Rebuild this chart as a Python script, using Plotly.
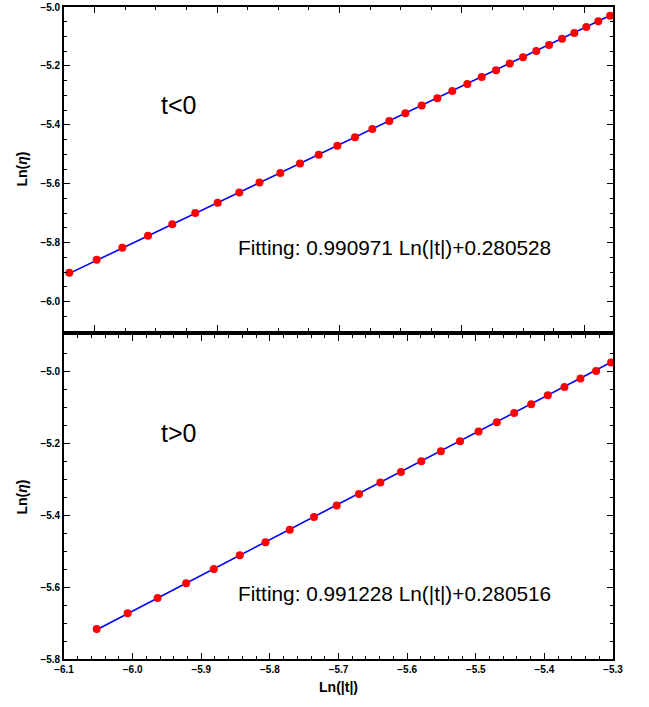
import plotly.graph_objects as go

# ---------------- data ----------------
# t < 0 panel
x_neg = [-6.2413, -6.1966, -6.1547, -6.1127, -6.0730, -6.0355, -5.9989, -5.9636,
         -5.9306, -5.8966, -5.8644, -5.8338, -5.8034, -5.7745, -5.7462, -5.7185,
         -5.6923, -5.6655, -5.6400, -5.6155, -5.5910, -5.5675, -5.5441, -5.5217,
         -5.5000, -5.4783, -5.4575, -5.4363, -5.4162, -5.3966, -5.3770, -5.3578]
y_neg = [-5.9020, -5.8585, -5.8170, -5.7765, -5.7378, -5.6998, -5.6643, -5.6294,
         -5.5955, -5.5632, -5.5316, -5.5012, -5.4714, -5.4425, -5.4142, -5.3869,
         -5.3610, -5.3348, -5.3097, -5.2850, -5.2610, -5.2375, -5.2147, -5.1922,
         -5.1709, -5.1492, -5.1287, -5.1081, -5.0880, -5.0680, -5.0488, -5.0296]

# t > 0 panel
x_pos = [-6.0524, -6.0073, -5.9636, -5.9220, -5.8817, -5.8438, -5.8064, -5.7710,
         -5.7357, -5.7026, -5.6702, -5.6390, -5.6090, -5.5793, -5.5508, -5.5229,
         -5.4959, -5.4693, -5.4440, -5.4192, -5.3950, -5.3707, -5.3474, -5.3246,
         -5.3028]
y_pos = [-5.7165, -5.6731, -5.6306, -5.5897, -5.5500, -5.5119, -5.4758, -5.4408,
         -5.4056, -5.3739, -5.3417, -5.3100, -5.2806, -5.2508, -5.2231, -5.1953,
         -5.1683, -5.1425, -5.1167, -5.0925, -5.0675, -5.0444, -5.0211, -5.0000,
         -4.9762]

# fit coefficients shown in the chart
slope_neg, icpt_neg = 0.990971, 0.280528
slope_pos, icpt_pos = 0.991228, 0.280516

label_neg = "t<0"
label_pos = "t>0"
fit_text_neg = "Fitting: 0.990971 Ln(|t|)+0.280528"
fit_text_pos = "Fitting: 0.991228 Ln(|t|)+0.280516"

# ---------------- figure ----------------
W, H = 649, 707
ML, MR, MT, MB = 64, 36, 7, 48
PW, PH = W - ML - MR, H - MT - MB


def paper(px, py):
    return (px - ML) / PW, (H - MB - py) / PH


fig = go.Figure()

fit_x_neg = [min(x_neg), max(x_neg)]
fit_x_pos = [min(x_pos), max(x_pos)]

# top panel (t<0)
fig.add_trace(go.Scatter(x=fit_x_neg, y=[slope_neg * v + icpt_neg for v in fit_x_neg],
                         mode="lines", line=dict(color="#0000ff", width=1.6),
                         xaxis="x2", yaxis="y2", showlegend=False, hoverinfo="skip"))
fig.add_trace(go.Scatter(x=x_neg, y=y_neg, mode="markers",
                         marker=dict(color="#ff0000", size=8),
                         xaxis="x2", yaxis="y2", showlegend=False, cliponaxis=True))
# bottom panel (t>0)
fig.add_trace(go.Scatter(x=fit_x_pos, y=[slope_pos * v + icpt_pos for v in fit_x_pos],
                         mode="lines", line=dict(color="#0000ff", width=1.6),
                         xaxis="x", yaxis="y", showlegend=False, hoverinfo="skip"))
fig.add_trace(go.Scatter(x=x_pos, y=y_pos, mode="markers",
                         marker=dict(color="#ff0000", size=8),
                         xaxis="x", yaxis="y", showlegend=False, cliponaxis=True))

FAM = "Liberation Sans, Arial, sans-serif"
tickfont = dict(family=FAM, size=10, color="black", weight="bold")
titlefont = dict(family=FAM, size=14, color="black")

common = dict(showline=True, linecolor="black", linewidth=1.6, mirror="ticks",
              ticks="inside", ticklen=6, tickwidth=1.3, tickcolor="black",
              showgrid=False, zeroline=False, tickfont=tickfont, automargin=False,
              layer="above traces")
minor = dict(ticklen=3.5, tickwidth=1.1, tickcolor="black", ticks="inside", showgrid=False)

top_dom = 1 - (331 - MT) / PH
bot_dom = (H - MB - 335) / PH

fig.update_layout(
    width=W, height=H,
    margin=dict(l=ML, r=MR, t=MT, b=MB, autoexpand=False),
    paper_bgcolor="white", plot_bgcolor="white",
    xaxis=dict(domain=[0, 1], anchor="y", range=[-6.1, -5.3], dtick=0.1, tick0=-6.1,
               tickformat=".1f", minor=dict(dtick=0.02, **minor),
               title=dict(text="<b>Ln(|t|)</b>", font=titlefont, standoff=8),
               **common),
    yaxis=dict(domain=[0, bot_dom], anchor="x", range=[-5.8, -4.9], dtick=0.2, tick0=-5.8,
               tickformat=".1f", minor=dict(dtick=0.05, **minor),
               title=dict(text="<b>Ln(<i>η</i>)</b>", font=titlefont, standoff=10),
               **common),
    xaxis2=dict(domain=[0, 1], anchor="y2", range=[-6.25, -5.353], dtick=0.2, tick0=-6.2,
                showticklabels=False, minor=dict(dtick=0.05, **minor),
                **common),
    yaxis2=dict(domain=[top_dom, 1], anchor="x2", range=[-6.1, -5.0], dtick=0.2, tick0=-6.0,
                tickformat=".1f", minor=dict(dtick=0.05, **minor),
                title=dict(text="<b>Ln(<i>η</i>)</b>", font=titlefont, standoff=10),
                **common),
)

annot_font = dict(family=FAM, color="black")
ann = []
for txt, (px_, py_), size, xanchor in [
    (label_neg, (178, 105), 25, "center"),
    (label_pos, (178, 433), 25, "center"),
    (fit_text_neg, (236, 247), 20.8, "left"),
    (fit_text_pos, (236, 593), 20.8, "left"),
]:
    xp, yp = paper(px_, py_)
    ann.append(dict(text=txt, x=xp, y=yp, xref="paper", yref="paper",
                    xanchor=xanchor, yanchor="middle", showarrow=False,
                    font=dict(size=size, **annot_font)))
fig.update_layout(annotations=ann)

fig.write_html("out.html")
